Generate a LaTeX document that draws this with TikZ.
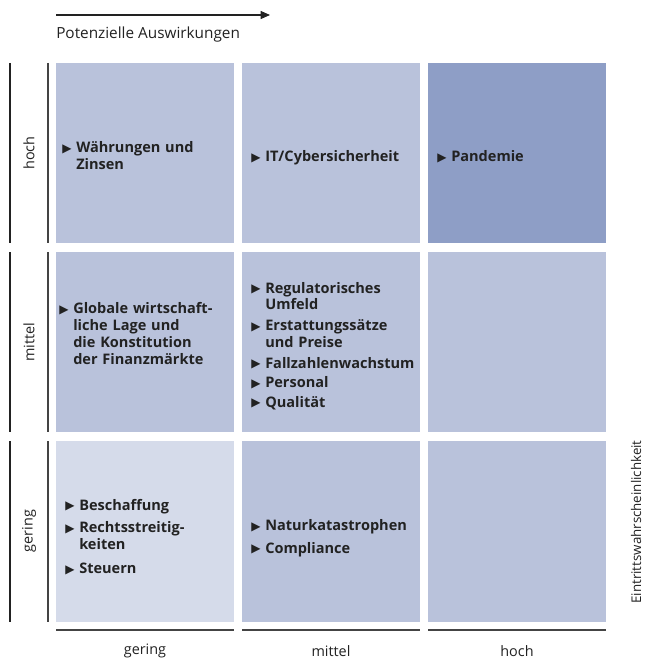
\documentclass[tikz,border=0pt]{standalone}
\usepackage{fontspec}
\setmainfont{Open Sans}
\newfontfamily\symfont{DejaVu Sans}
\usetikzlibrary{arrows.meta}
\definecolor{cellc}{HTML}{B9C2DB}
\definecolor{cellhi}{HTML}{8E9EC6}
\definecolor{celllo}{HTML}{D5DBEA}
\definecolor{txt}{HTML}{222222}
\definecolor{axis}{HTML}{444444}
\newcommand{\itm}[1]{\par\noindent\makebox[10.5pt][l]{\raisebox{0.3pt}{\symfont\fontsize{9}{9}\selectfont ▶}}\begin{tabular}[t]{@{}l@{}}#1\end{tabular}\par}
\tikzset{
  cell/.style={fill=cellc, draw=none},
  items/.style={anchor=west, inner sep=0pt, text width=170pt, text=txt,
    font=\fontsize{10.9}{12.6}\selectfont\bfseries},
  axlabel/.style={text=txt, font=\fontsize{10.8}{12}\selectfont, inner sep=0pt},
  vline/.style={line width=1.1pt, draw=axis},
  hline/.style={line width=1.1pt, draw=axis}
}
\begin{document}
\begin{tikzpicture}[x=0.75pt,y=-0.75pt]
\useasboundingbox (0,0) rectangle (650,663);
% cells
\fill[cell] (56,63) rectangle (234,243);
\fill[cell] (242,63) rectangle (420,243);
\fill[cellhi] (428,63) rectangle (606,243);
\fill[cell] (56,252) rectangle (234,432);
\fill[cell] (242,252) rectangle (420,432);
\fill[cell] (428,252) rectangle (606,432);
\fill[celllo] (56,441) rectangle (234,622);
\fill[cell] (242,441) rectangle (420,622);
\fill[cell] (428,441) rectangle (606,622);
% top arrow
\coordinate (ta) at (56,15);
\coordinate (tb) at (270,15);
\draw[line width=0.8pt, draw=txt, -{Triangle[length=7pt,width=6pt]}] (ta) -- (tb);
\node[axlabel, anchor=west, font=\fontsize{11.5}{13}\selectfont] (pot) at (56,35) {Potenzielle Auswirkungen};
% left lines
\foreach \a/\b [count=\i] in {63/243,252/432,441/622}{
  \coordinate (la\i) at (10,\a); \coordinate (lb\i) at (10,\b);
  \coordinate (ma\i) at (48,\a); \coordinate (mb\i) at (48,\b);
  \draw[line width=0.9pt, draw=txt] (la\i) -- (lb\i);
  \draw[vline] (ma\i) -- (mb\i);
}
\node[axlabel, rotate=90] (rh) at (29,153) {hoch};
\node[axlabel, rotate=90] (rm) at (29,342) {mittel};
\node[axlabel, rotate=90] (rg) at (29,531) {gering};
% bottom lines
\foreach \a/\b [count=\i] in {56/234,242/420,428/606}{
  \coordinate (ba\i) at (\a,630); \coordinate (bb\i) at (\b,630);
  \draw[hline] (ba\i) -- (bb\i);
}
\node[axlabel] (cg) at (145,651) {gering};
\node[axlabel] (cm) at (331,651) {mittel};
\node[axlabel] (ch) at (517,651) {hoch};
\node[axlabel, rotate=90, font=\fontsize{10}{12}\selectfont] (ew) at (636,522) {Eintrittswahrscheinlichkeit};
% items
\node[items] (i11) at (62,155) {\itm{Währungen und\\Zinsen}};
\node[items] (i12) at (251,156) {\itm{IT/Cybersicherheit}};
\node[items] (i13) at (437,156) {\itm{Pandemie}};
\node[items] (i21) at (59,333) {\itm{Globale wirtschaft-\\liche Lage und\\die Konstitution\\der Finanzmärkte}};
\node[items] (i22) at (251,343) {\setlength{\parskip}{2pt}\itm{Regulatorisches\\Umfeld}\itm{Erstattungssätze\\und Preise}\itm{Fallzahlenwachstum}\itm{Personal}\itm{Qualität}};
\node[items] (i31) at (65,533) {\setlength{\parskip}{4.5pt}\itm{Beschaffung}\itm{Rechtsstreitig-\\keiten}\itm{Steuern}};
\node[items] (i32) at (251,533) {\setlength{\parskip}{4.5pt}\itm{Naturkatastrophen}\itm{Compliance}};
\end{tikzpicture}
\end{document}
